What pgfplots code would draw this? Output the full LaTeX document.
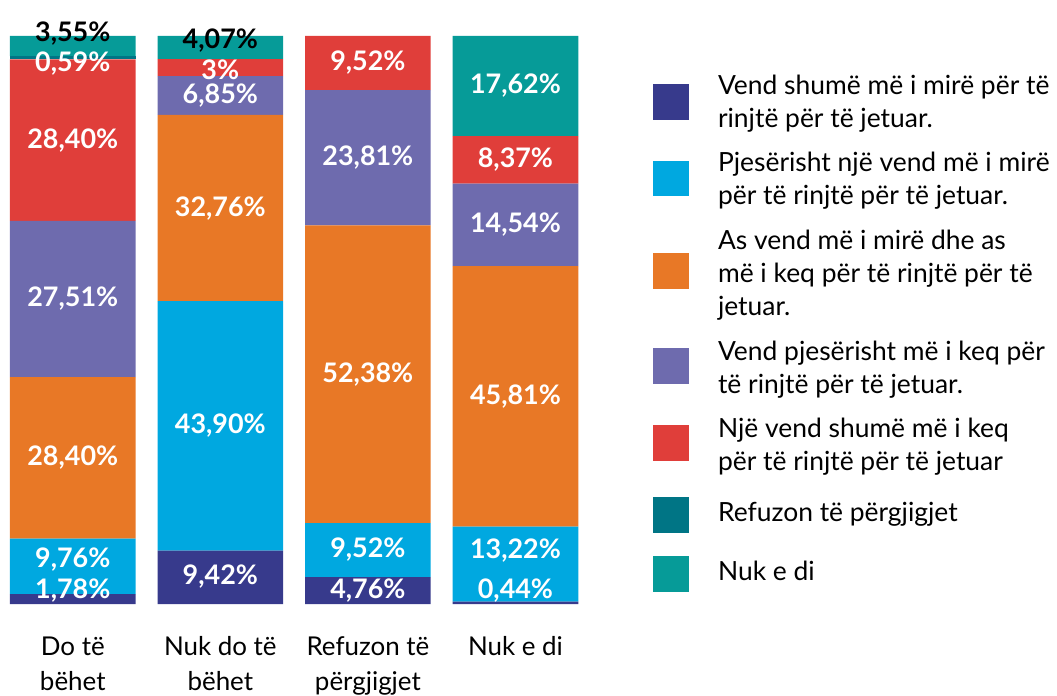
\documentclass[border=0pt]{standalone}
\usepackage{fontspec}
\setmainfont{Lato}
\usepackage{pgfplots}
\pgfplotsset{compat=1.18}

\definecolor{c1}{HTML}{373A8C}
\definecolor{c2}{HTML}{00A8E0}
\definecolor{c3}{HTML}{E87826}
\definecolor{c4}{HTML}{6E6BAE}
\definecolor{c5}{HTML}{E03E3A}
\definecolor{c6}{HTML}{007585}
\definecolor{c7}{HTML}{069B98}

\newcommand{\lblfont}{\fontsize{27}{30}\selectfont\bfseries}
\newcommand{\legfont}{\fontsize{26.5}{33}\selectfont}
\newcommand{\catfont}{\fontsize{26}{35}\selectfont}
% legend text block: fixed line boxes, 33pt apart
\newcommand{\legtxt}[1]{\parbox[c]{340pt}{\legfont\raggedright\rule{0pt}{23pt}#1\rule[-10pt]{0pt}{10pt}}}
% legend entry: square centre y, text centre y, colour, text
\newcommand{\legitem}[4]{%
  \fill[#3] (655pt,#1pt-18pt) rectangle (691pt,#1pt+18pt);
  \node[anchor=west, inner sep=0pt] at (720pt,#2pt) {\legtxt{#4}};}
\tikzset{lbl/.style={font=\lblfont, text=white, inner sep=0pt}}
\pgfplotsset{
  frame/.style={at={(0,0)}, anchor=south west, scale only axis,
    width=590pt, height=570pt, xmin=-0.4932, xmax=3.4932, ymin=0, ymax=100, clip=false},
}

\begin{document}
\begin{tikzpicture}
\begin{axis}[
  frame,
  ybar stacked, bar width=126pt,
  axis line style={draw=none}, tick style={draw=none},
  ytick=\empty, xtick={0,1,2,3},
  xticklabels={{\strut Do të\\bëhet},{\strut Nuk do të\\bëhet},{\strut Refuzon të\\përgjigjet},{\strut Nuk e di}},
  xticklabel style={align=center, font=\catfont, inner sep=0pt, anchor=north, yshift=-27pt},
]
\addplot[fill=c1, draw=none] coordinates {(0,1.78) (1,9.42) (2,4.76) (3,0.44)};
\addplot[fill=c2, draw=none] coordinates {(0,9.76) (1,43.90) (2,9.52) (3,13.22)};
\addplot[fill=c3, draw=none] coordinates {(0,28.40) (1,32.76) (2,52.38) (3,45.81)};
\addplot[fill=c4, draw=none] coordinates {(0,27.51) (1,6.85) (2,23.81) (3,14.54)};
\addplot[fill=c5, draw=none] coordinates {(0,28.40) (1,3) (2,9.52) (3,8.37)};
\addplot[fill=c6, draw=none] coordinates {(0,0.59) (1,0) (2,0) (3,0)};
\addplot[fill=c7, draw=none] coordinates {(0,3.55) (1,4.07) (2,0) (3,17.62)};
\end{axis}

% value labels, in a second axis on top of the bars
\begin{axis}[frame, hide axis]
% Do te behet
\node[lbl, text=black] at (axis cs:0,100.4) {3,55\%};
\node[lbl] at (axis cs:0,95.1) {0,59\%};
\node[lbl] at (axis cs:0,81.65) {28,40\%};
\node[lbl] at (axis cs:0,53.7) {27,51\%};
\node[lbl] at (axis cs:0,25.74) {28,40\%};
\node[lbl] at (axis cs:0,7.9) {9,76\%};
\node[lbl] at (axis cs:0,2.4) {1,78\%};
% Nuk do te behet
\node[lbl, text=black] at (axis cs:1,99.1) {4,07\%};
\node[lbl] at (axis cs:1,94.1) {3\%};
\node[lbl] at (axis cs:1,89.5) {6,85\%};
\node[lbl] at (axis cs:1,69.7) {32,76\%};
\node[lbl] at (axis cs:1,31.37) {43,90\%};
\node[lbl] at (axis cs:1,4.8) {9,42\%};
% Refuzon te pergjigjet
\node[lbl] at (axis cs:2,95.23) {9,52\%};
\node[lbl] at (axis cs:2,78.57) {23,81\%};
\node[lbl] at (axis cs:2,40.47) {52,38\%};
\node[lbl] at (axis cs:2,9.56) {9,52\%};
\node[lbl] at (axis cs:2,2.38) {4,76\%};
% Nuk e di
\node[lbl] at (axis cs:3,91.19) {17,62\%};
\node[lbl] at (axis cs:3,78.2) {8,37\%};
\node[lbl] at (axis cs:3,66.74) {14,54\%};
\node[lbl] at (axis cs:3,36.57) {45,81\%};
\node[lbl] at (axis cs:3,9.4) {13,22\%};
\node[lbl] at (axis cs:3,2.4) {0,44\%};
\end{axis}

% legend
\legitem{504}{501.5}{c1}{Vend shumë më i mirë për të\\rinjtë për të jetuar.}
\legitem{427}{423.5}{c2}{Pjesërisht një vend më i mirë\\për të rinjtë për të jetuar.}
\legitem{334}{329.5}{c3}{As vend më i mirë dhe as\\më i keq për të rinjtë për të\\jetuar.}
\legitem{239}{234.5}{c4}{Vend pjesërisht më i keq për\\të rinjtë për të jetuar.}
\legitem{162}{157.5}{c5}{Një vend shumë më i keq\\për të rinjtë për të jetuar}
\legitem{89}{89}{c6}{Refuzon të përgjigjet}
\legitem{30}{30}{c7}{Nuk e di}

\path[use as bounding box] (0pt,-91pt) rectangle (1057pt,606pt);
\end{tikzpicture}
\end{document}
